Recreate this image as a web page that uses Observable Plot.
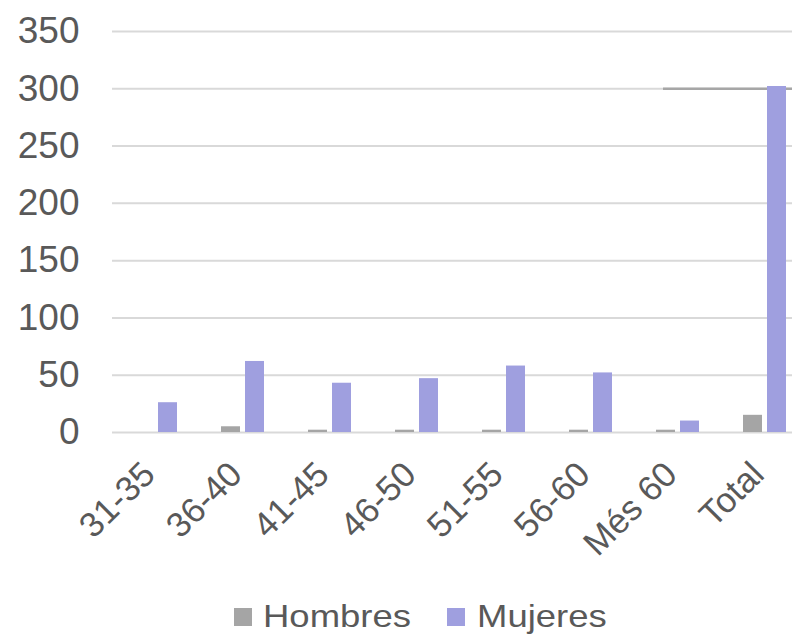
<!DOCTYPE html>
<html>
<head>
<meta charset="utf-8">
<script src="https://cdn.jsdelivr.net/npm/d3@7"></script>
<script src="https://cdn.jsdelivr.net/npm/@observablehq/plot@0.6"></script>
<style>
  html, body { margin: 0; padding: 0; background: white; width: 792px; height: 636px; overflow: hidden; }
  #chart svg { display: block; }
  .legend { display: flex; align-items: center; justify-content: center; padding-left: 47px; font-family: "Liberation Sans", Arial, sans-serif; font-size: 32px; color: #595959; margin-top: 12px; }
  .legend .item { display: flex; align-items: center; }
  .legend .sw { width: 18px; height: 18px; margin-right: 11px; }
  .legend .t { display: inline-block; transform: scaleX(1.14); transform-origin: left center; white-space: nowrap; }
</style>
</head>
<body>
<div id="chart"></div>
<script>
const categories = ["31-35", "36-40", "41-45", "46-50", "51-55", "56-60", "Més 60", "Total"];
const series = ["Hombres", "Mujeres"];
const hombres = [0, 5, 2, 2, 2, 2, 2, 15];
const mujeres = [26, 62, 43, 47, 58, 52, 10, 302];
const colors = ["#a5a5a5", "#9f9fdf"];
const yTicks = [0, 50, 100, 150, 200, 250, 300, 350];

const rows = [];
categories.forEach((c, i) => {
  rows.push({category: c, sex: series[0], value: hombres[i]});
  rows.push({category: c, sex: series[1], value: mujeres[i]});
});

const chart = Plot.plot({
  width: 792,
  height: 586,
  marginLeft: 110,
  marginRight: -17,
  marginTop: 31,
  marginBottom: 154,
  style: {fontFamily: "'Liberation Sans', Arial, sans-serif", fontSize: "36px", color: "#595959", background: "white"},
  fx: {domain: categories, paddingInner: 0, paddingOuter: 0, label: null},
  x: {domain: series, paddingInner: 0.22, paddingOuter: 0.876, axis: null},
  y: {domain: [0, 350], axis: null},
  color: {domain: series, range: colors},
  marks: [
    Plot.gridY(yTicks, {stroke: "#d9d9d9", strokeOpacity: 1, strokeWidth: 2}),
    Plot.ruleY([300], {fx: () => "Total", stroke: "#a6a6a6", strokeWidth: 2.5, insetLeft: -58}),
    Plot.barY(rows, {fx: "category", x: "sex", y: "value", fill: "sex"}),
    Plot.axisY(yTicks, {tickSize: 0, tickPadding: 33, fontSize: 37, tickFormat: d => String(d), label: null}),
    Plot.axisFx({anchor: "bottom", tickRotate: -45, tickSize: 0, tickPadding: 34, dx: -7, dy: 2, fontSize: 35, label: null})
  ]
});
document.getElementById("chart").appendChild(chart);

const legend = document.createElement("div");
legend.className = "legend";
const extra = [18, 14];
series.forEach((s, i) => {
  const item = document.createElement("div");
  item.className = "item";
  if (i === 0) item.style.marginRight = "36px";
  const sw = document.createElement("span");
  sw.className = "sw";
  if (i === 1) sw.style.marginRight = "12px";
  sw.style.background = colors[i];
  const t = document.createElement("span");
  t.className = "t";
  t.style.marginRight = extra[i] + "px";
  t.textContent = s;
  item.appendChild(sw);
  item.appendChild(t);
  legend.appendChild(item);
});
document.body.appendChild(legend);
</script>
</body>
</html>
